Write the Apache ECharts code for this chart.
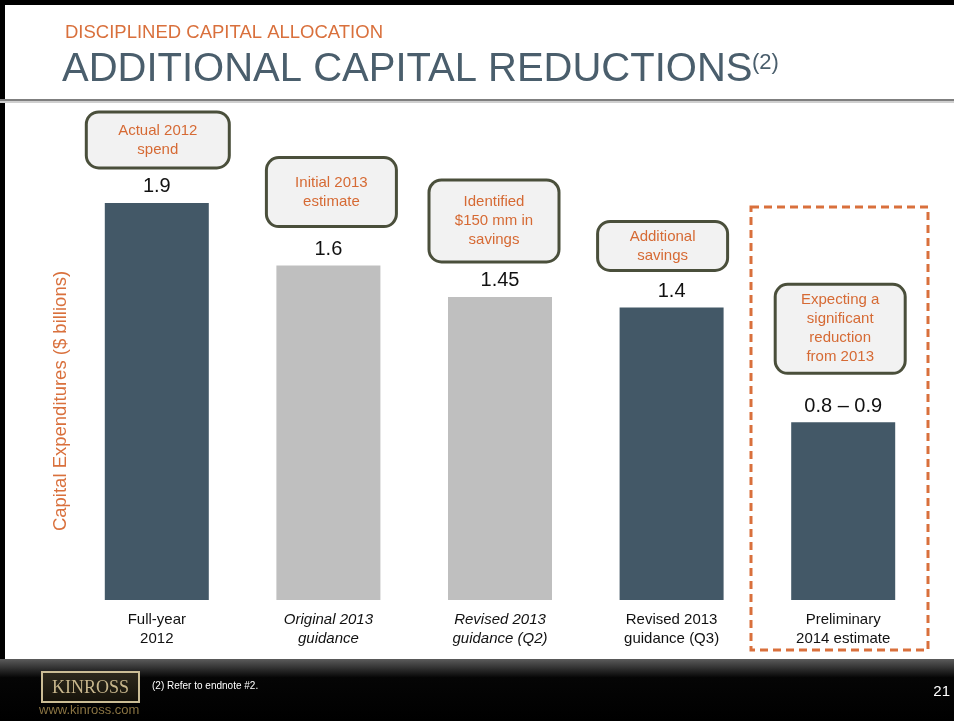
<!DOCTYPE html>
<html>
<head>
<meta charset="utf-8">
<script src="https://cdn.jsdelivr.net/npm/echarts@6/dist/echarts.min.js"></script>
<style>
  html, body { margin: 0; padding: 0; background: #fff; }
  #chart { width: 954px; height: 721px; }
</style>
</head>
<body>
<div id="chart"></div>
<script>
// data
const categories = ['Full-year\n2012', 'Original 2013\nguidance', 'Revised 2013\nguidance (Q2)', 'Revised 2013\nguidance (Q3)', 'Preliminary\n2014 estimate']
const capex = [1.9, 1.6, 1.45, 1.4, 0.85]
const valueLabels = ['1.9', '1.6', '1.45', '1.4', '0.8 – 0.9']
const callouts = [
  'Actual 2012\nspend',
  'Initial 2013\nestimate',
  'Identified\n$150 mm in\nsavings',
  'Additional\nsavings',
  'Expecting a\nsignificant\nreduction\nfrom 2013'
]

const orange = '#d9703c'
const slate = '#435867'
const grey = '#bfbfbf'
const barColors = [slate, grey, grey, slate, slate]
const italicCats = [false, true, true, false, false]

// callout box tweaks (padding, gap above bar, x shift, width)
const boxPad = [[7.5, 8], [14, 8], [11, 8], [4, 8], [5, 8]]
const boxGap = [36, 40, 36, 38, 50]
const boxShift = [1, 3, -6, -9, -3]
const boxWidth = [124, 111, 111, 111, 111]

const chart = echarts.init(document.getElementById('chart'))

const option = {
  backgroundColor: '#fff',
  animation: false,
  grid: { left: 71, right: 25, top: 182, bottom: 121 },
  xAxis: {
    type: 'category',
    data: categories.map((c, i) => ({
      value: c,
      textStyle: { fontStyle: italicCats[i] ? 'italic' : 'normal' }
    })),
    axisLine: { show: false },
    axisTick: { show: false },
    axisLabel: {
      color: '#111',
      fontSize: 15,
      lineHeight: 19,
      margin: 10,
      fontFamily: 'Liberation Sans, Arial, sans-serif',
      interval: 0
    }
  },
  yAxis: {
    type: 'value',
    min: 0,
    max: 2,
    show: false
  },
  series: [
    {
      type: 'bar',
      barWidth: 104,
      data: capex.map((v, i) => ({ value: v, itemStyle: { color: barColors[i] } })),
      label: {
        show: true,
        position: 'top',
        distance: 6,
        color: '#111',
        fontSize: 20,
        fontFamily: 'Liberation Sans, Arial, sans-serif',
        formatter: p => valueLabels[p.dataIndex]
      }
    },
    {
      type: 'scatter',
      symbolSize: 1,
      itemStyle: { color: 'rgba(0,0,0,0)', opacity: 1 },
      z: 5,
      data: capex.map((v, i) => ({
        value: v,
        label: {
          distance: boxGap[i],
          offset: [boxShift[i], 0],
          padding: boxPad[i],
          width: boxWidth[i]
        }
      })),
      label: {
        show: true,
        position: 'top',
        align: 'center',
        color: '#d66a34',
        fontSize: 15,
        lineHeight: 19,
        fontFamily: 'Liberation Sans, Arial, sans-serif',
        backgroundColor: '#f2f2f2',
        borderColor: '#4a4f3b',
        borderWidth: 3,
        borderRadius: 11,
        formatter: p => callouts[p.dataIndex]
      }
    }
  ],
  graphic: [
    // slide frame
    { type: 'rect', shape: { x: 0, y: 0, width: 954, height: 5 }, style: { fill: '#000' } },
    { type: 'rect', shape: { x: 0, y: 0, width: 5, height: 721 }, style: { fill: '#000' } },
    { type: 'rect', shape: { x: 0, y: 99, width: 954, height: 2 }, style: { fill: '#7f7f7f' } },
    { type: 'rect', shape: { x: 0, y: 101, width: 954, height: 2 }, style: { fill: '#cfcfcf' } },
    {
      type: 'text', left: 65, top: 23,
      style: { text: 'DISCIPLINED CAPITAL ALLOCATION', fill: orange, fontSize: 18.5, fontFamily: 'Liberation Sans, Arial, sans-serif' }
    },
    {
      type: 'text', left: 62, top: 50,
      style: { text: 'ADDITIONAL CAPITAL REDUCTIONS', fill: '#4a5e6c', fontSize: 40, fontFamily: 'Liberation Sans, Arial, sans-serif' }
    },
    {
      type: 'text', left: 752, top: 52,
      style: { text: '(2)', fill: '#4a5e6c', fontSize: 22, fontFamily: 'Liberation Sans, Arial, sans-serif' }
    },
    {
      type: 'text', x: 61, y: 401, rotation: Math.PI / 2,
      style: {
        text: 'Capital Expenditures ($ billions)', fill: orange, fontSize: 18.5,
        fontFamily: 'Liberation Sans, Arial, sans-serif', align: 'center', verticalAlign: 'middle'
      }
    },
    // dashed box round the 2014 estimate
    {
      type: 'rect', z: 10,
      shape: { x: 751, y: 207, width: 177, height: 443 },
      style: { fill: 'none', stroke: orange, lineWidth: 3, lineDash: [8, 5] }
    },
    // footer band
    {
      type: 'rect', shape: { x: 0, y: 659, width: 954, height: 62 },
      style: {
        fill: new echarts.graphic.LinearGradient(0, 0, 0, 1, [
          { offset: 0, color: '#5b5b5b' },
          { offset: 0.3, color: '#050505' },
          { offset: 1, color: '#000' }
        ])
      }
    },
    {
      type: 'rect', shape: { x: 42, y: 672, width: 97, height: 30 },
      style: {
        fill: new echarts.graphic.LinearGradient(0, 0, 0, 1, [
          { offset: 0, color: '#2e2a1e' },
          { offset: 1, color: '#151209' }
        ]),
        stroke: '#cbbd95', lineWidth: 2
      }
    },
    {
      type: 'text', x: 90.5, y: 688,
      style: {
        text: 'KINROSS', fill: '#c7b68c', fontSize: 18, fontFamily: 'Liberation Serif, Times New Roman, serif',
        align: 'center', verticalAlign: 'middle'
      }
    },
    {
      type: 'text', left: 39, top: 704,
      style: { text: 'www.kinross.com', fill: '#8a7443', fontSize: 13, fontFamily: 'Liberation Sans, Arial, sans-serif' }
    },
    {
      type: 'text', left: 152, top: 681,
      style: { text: '(2) Refer to endnote #2.', fill: '#fff', fontSize: 10, fontFamily: 'Liberation Sans, Arial, sans-serif' }
    },
    {
      type: 'text', right: 4, top: 684,
      style: { text: '21', fill: '#fff', fontSize: 15, fontFamily: 'Liberation Sans, Arial, sans-serif' }
    }
  ]
}

chart.setOption(option)
window.addEventListener('resize', () => chart.resize())
</script>
</body>
</html>
